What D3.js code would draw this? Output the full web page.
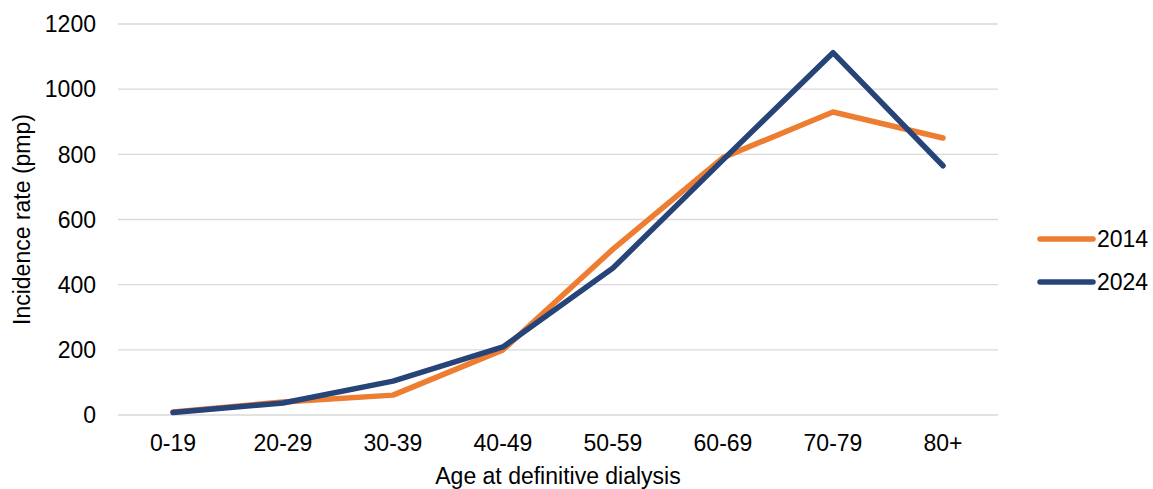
<!DOCTYPE html>
<html>
<head>
<meta charset="utf-8">
<script src="https://cdn.jsdelivr.net/npm/d3@7"></script>
<style>
  body { margin: 0; background: #fff; }
  text { font-family: "Liberation Sans", Arial, sans-serif; fill: #000; }
</style>
</head>
<body>
<div id="chart-area"></div>
<script>
var ageGroups = ["0-19", "20-29", "30-39", "40-49", "50-59", "60-69", "70-79", "80+"];
var years = ["2014", "2024"];
var rate2014 = [9, 40, 61, 200, 509, 790, 930, 850];
var rate2024 = [8, 37, 104, 209, 451, 783, 1112, 765];
var yTicks = [0, 200, 400, 600, 800, 1000, 1200];
var colors = ["#ED7D31", "#264478"];

var width = 1153, height = 489;
var plotLeft = 118, plotRight = 998, plotTop = 24, plotBottom = 415;

var svg = d3.select("#chart-area").append("svg")
    .attr("width", width)
    .attr("height", height);

var x = d3.scalePoint()
    .domain(ageGroups)
    .range([plotLeft, plotRight])
    .padding(0.5);

var y = d3.scaleLinear()
    .domain([0, 1200])
    .range([plotBottom, plotTop]);

// gridlines
svg.selectAll("line.grid")
    .data(yTicks)
    .enter()
    .append("line")
    .attr("x1", plotLeft)
    .attr("x2", plotRight)
    .attr("y1", function(d){ return y(d); })
    .attr("y2", function(d){ return y(d); })
    .attr("stroke", "#d9d9d9")
    .attr("stroke-width", 1.3);

// y tick labels
svg.selectAll("text.ytick")
    .data(yTicks)
    .enter()
    .append("text")
    .attr("x", 96)
    .attr("y", function(d){ return y(d); })
    .attr("dy", "0.36em")
    .attr("text-anchor", "end")
    .style("font-size", "23px")
    .text(function(d){ return d; });

// x tick labels
svg.selectAll("text.xtick")
    .data(ageGroups)
    .enter()
    .append("text")
    .attr("x", function(d){ return x(d); })
    .attr("y", 451)
    .attr("text-anchor", "middle")
    .style("font-size", "23px")
    .text(function(d){ return d; });

// axis titles
svg.append("text")
    .attr("x", 558)
    .attr("y", 484)
    .attr("text-anchor", "middle")
    .style("font-size", "23px")
    .text("Age at definitive dialysis");

svg.append("text")
    .attr("transform", "translate(30," + ((plotTop + plotBottom) / 2) + ") rotate(-90)")
    .attr("text-anchor", "middle")
    .style("font-size", "23px")
    .text("Incidence rate (pmp)");

var line = d3.line()
    .x(function(d, i){ return x(ageGroups[i]); })
    .y(function(d){ return y(d); });

var series = [rate2014, rate2024];

svg.selectAll("path.series")
    .data(series)
    .enter()
    .append("path")
    .attr("d", line)
    .attr("fill", "none")
    .attr("stroke", function(d, i){ return colors[i]; })
    .attr("stroke-width", 5.5)
    .attr("stroke-linejoin", "round")
    .attr("stroke-linecap", "round");

// legend
var legend = svg.selectAll("g.legend")
    .data(years)
    .enter()
    .append("g")
    .attr("transform", function(d, i){ return "translate(1040," + (239 + i * 43) + ")"; });

legend.append("line")
    .attr("x1", 0)
    .attr("x2", 53)
    .attr("stroke", function(d, i){ return colors[i]; })
    .attr("stroke-width", 5.5)
    .attr("stroke-linecap", "round");

legend.append("text")
    .attr("x", 57)
    .attr("dy", "0.36em")
    .style("font-size", "23px")
    .text(function(d){ return d; });
</script>
</body>
</html>
